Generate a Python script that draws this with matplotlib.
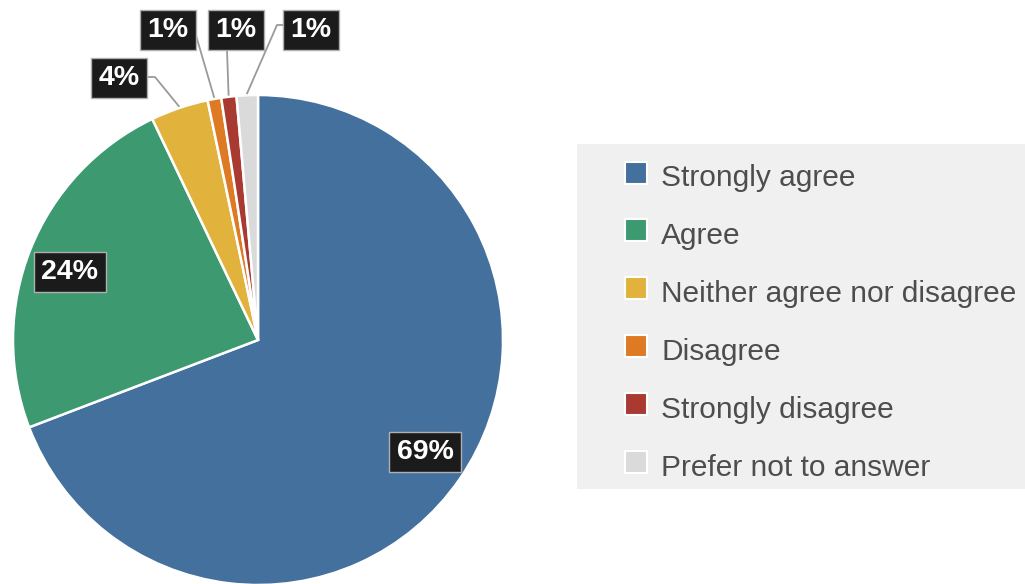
import numpy as np
import matplotlib
matplotlib.use('Agg')
from matplotlib import pyplot as plt
from matplotlib.patches import Rectangle

# survey answers, share of respondents (%)
categories = ['Strongly agree', 'Agree', 'Neither agree nor disagree',
              'Disagree', 'Strongly disagree', 'Prefer not to answer']
values = [69.2, 23.7, 3.8, 0.9, 1.0, 1.4]
colors = ['#44709d', '#3d9970', '#e2b33c', '#df7a24', '#a93a32', '#dadada']

W, H = 1025, 584
plt.rcParams['font.family'] = ['Liberation Sans', 'DejaVu Sans']

fig = plt.figure(figsize=(W / 100, H / 100), dpi=100)
ax = fig.add_axes([0, 0, 1, 1])

def py(y):
    # pixel row -> data y
    return H - y

cx, cy, r = 258, py(340), 245
wedges, _ = ax.pie(values, colors=colors, startangle=90, counterclock=False,
                   center=(cx, cy), radius=r,
                   wedgeprops=dict(edgecolor='white', linewidth=1.8))

# label box centres (pixels) and leader line start points
label_pos = [(425, 452), (70, 272), (119, 78), (168, 30), (236, 30), (311, 30)]
leaders = [None, None, [(147, 77), (155, 77)], [(195, 32)], [(227, 50)],
           [(284, 25), (277, 25)]]

for i, w in enumerate(wedges):
    pct = '%d%%' % round(values[i])
    if leaders[i] is not None:
        mid = np.deg2rad((w.theta1 + w.theta2) / 2)
        end = (cx + (r + 2) * np.cos(mid), cy + (r + 2) * np.sin(mid))
        xs = [p[0] for p in leaders[i]] + [end[0]]
        ys = [py(p[1]) for p in leaders[i]] + [end[1]]
        ax.plot(xs, ys, color='#9a9a9a', lw=1.3, zorder=3)
    lx, ly = label_pos[i]
    ax.text(lx, py(ly), pct, ha='center', va='center', color='white',
            fontsize=20.5, fontweight='bold', zorder=5,
            bbox=dict(boxstyle='square,pad=0.26', fc='#1b1b1b', ec='#b0b0b0', lw=1))

# legend panel
ax.add_patch(Rectangle((577, py(489)), W - 577, 489 - 144, fc='#f0f0f0', ec='none', zorder=1))
for i, name in enumerate(categories):
    yc = 172.5 + 57.9 * i
    ax.add_patch(Rectangle((625, py(yc + 11)), 22, 22, fc=colors[i], ec='white', lw=1.5, zorder=2))
    ax.text(661, py(yc + 14), name, ha='left', va='baseline', fontsize=21.5,
            color='#4d4d4d', zorder=2)

ax.set_xlim(0, W)
ax.set_ylim(0, H)
ax.axis('off')

fig.savefig('out.png', dpi=100)
